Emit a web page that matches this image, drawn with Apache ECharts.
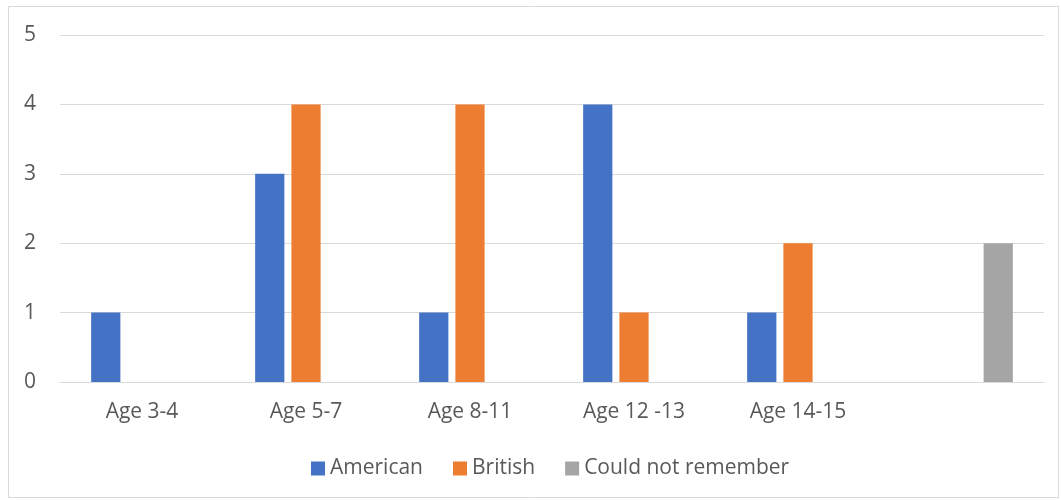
<!DOCTYPE html>
<html>
<head>
<meta charset="utf-8">
<script src="https://cdn.jsdelivr.net/npm/echarts@6/dist/echarts.min.js"></script>
<style>
  html, body { margin: 0; padding: 0; background: #fff; }
  #chart { width: 1061px; height: 500px; }
</style>
</head>
<body>
<div id="chart"></div>
<script>
// Age groups (the last group has no label)
const categories = ['Age 3-4', 'Age 5-7', 'Age 8-11', 'Age 12 -13', 'Age 14-15', ''];
const american = [1, 3, 1, 4, 1, null];
const british = [null, 4, 4, 1, 2, null];
const couldNotRemember = [null, null, null, null, null, 2];
const yTicks = [0, 1, 2, 3, 4, 5];

const textColor = '#595959';
const fontFamily = '"Open Sans", "Noto Sans", sans-serif';
const fontSize = 21;

const chart = echarts.init(document.getElementById('chart'), null, { renderer: 'canvas' });

chart.setOption({
  animation: false,
  backgroundColor: '#ffffff',
  textStyle: { fontFamily: fontFamily, color: textColor },
  graphic: [{
    type: 'rect',
    shape: { x: 8.5, y: 6.5, width: 1050, height: 491 },
    style: { fill: 'none', stroke: '#D9D9D9', lineWidth: 1 },
    silent: true
  }],
  grid: { left: 60, right: 17, top: 35, bottom: 118, containLabel: false },
  legend: {
    top: 453,
    left: 306,
    itemWidth: 14,
    itemHeight: 14,
    itemGap: 30,
    icon: 'rect',
    textStyle: { fontSize: fontSize, color: textColor, fontFamily: fontFamily },
    data: ['American', 'British', 'Could not remember']
  },
  xAxis: {
    type: 'category',
    data: categories,
    axisTick: { show: false },
    axisLine: { show: true, lineStyle: { color: '#D9D9D9', width: 1 } },
    axisLabel: { fontSize: fontSize, color: textColor, margin: 20, fontFamily: fontFamily }
  },
  yAxis: {
    type: 'value',
    min: yTicks[0],
    max: yTicks[yTicks.length - 1],
    interval: 1,
    axisLine: { show: false },
    axisTick: { show: false },
    splitLine: { lineStyle: { color: '#D9D9D9', width: 1 } },
    axisLabel: { fontSize: fontSize, color: textColor, margin: 24, fontFamily: fontFamily }
  },
  series: [
    {
      name: 'American', type: 'bar', data: american,
      itemStyle: { color: '#4472C4' },
      barGap: '24%', barCategoryGap: '38%'
    },
    {
      name: 'British', type: 'bar', data: british,
      itemStyle: { color: '#ED7D31' },
      barGap: '24%', barCategoryGap: '38%'
    },
    {
      name: 'Could not remember', type: 'bar', data: couldNotRemember,
      itemStyle: { color: '#A5A5A5' },
      barGap: '24%', barCategoryGap: '38%'
    }
  ]
});
</script>
</body>
</html>
